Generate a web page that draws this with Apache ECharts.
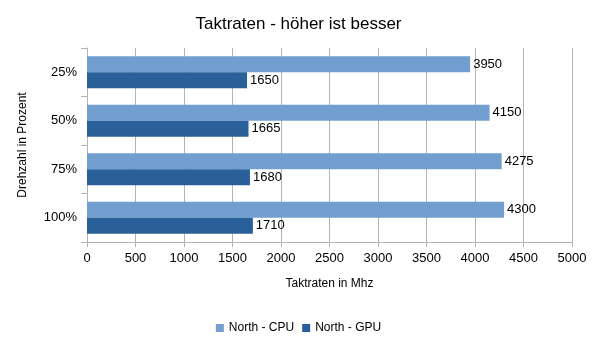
<!DOCTYPE html>
<html><head><meta charset="utf-8">
<script src="https://cdn.jsdelivr.net/npm/echarts@6/dist/echarts.min.js"></script>
<style>html,body{margin:0;padding:0;background:#fff}#c{width:597px;height:346px}</style>
</head><body><div id="c"></div>
<script>
const categories = ["25%", "50%", "75%", "100%"];
const cpuValues = [3950, 4150, 4275, 4300];
const gpuValues = [1650, 1665, 1680, 1710];
const seriesNames = ["North - CPU", "North - GPU"];

const font = "Liberation Sans";
const chart = echarts.init(document.getElementById('c'), null, {renderer: 'canvas'});
chart.setOption({
  animation: false,
  textStyle: {fontFamily: font},
  title: {text: "Taktraten - höher ist besser", left: 'center', top: 11,
    textStyle: {fontFamily: font, fontSize: 17, fontWeight: 'normal', color: '#000'}},
  legend: {bottom: 7, left: 'center', itemWidth: 8, itemHeight: 8, itemGap: 8, icon: 'rect',
    textStyle: {fontFamily: font, fontSize: 12, color: '#000'}, data: seriesNames},
  grid: {left: 87, right: 25, top: 48, bottom: 104},
  xAxis: {type: 'value', min: 0, max: 5000, interval: 500,
    name: "Taktraten in Mhz", nameLocation: 'middle', nameGap: 36,
    nameTextStyle: {fontFamily: font, fontSize: 12, color: '#000'},
    axisLine: {show: true, lineStyle: {color: '#b3b3b3'}},
    axisTick: {show: true, length: 5, lineStyle: {color: '#b3b3b3'}},
    axisLabel: {fontFamily: font, fontSize: 13, color: '#000', margin: 10,
      formatter: v => String(v)},
    splitLine: {show: true, lineStyle: {color: '#b3b3b3'}}},
  yAxis: {type: 'category', data: categories, inverse: true,
    name: "Drehzahl in Prozent", nameLocation: 'middle', nameGap: 58, nameRotate: 90,
    nameTextStyle: {fontFamily: font, fontSize: 12, color: '#000'},
    axisLine: {show: true, lineStyle: {color: '#b3b3b3'}},
    axisTick: {show: true, length: 6, inside: false, lineStyle: {color: '#b3b3b3'}},
    axisLabel: {fontFamily: font, fontSize: 13, color: '#000', margin: 10},
    splitLine: {show: false}},
  series: [
    {name: seriesNames[0], type: 'bar', data: cpuValues, barGap: '0%', barCategoryGap: '34%',
     itemStyle: {color: '#729fcf'},
     label: {show: true, position: 'right', distance: 3, fontFamily: font, fontSize: 13, color: '#000'}},
    {name: seriesNames[1], type: 'bar', data: gpuValues, barGap: '0%', barCategoryGap: '34%',
     itemStyle: {color: '#2a6099'},
     label: {show: true, position: 'right', distance: 3, fontFamily: font, fontSize: 13, color: '#000'}}
  ]
});
</script></body></html>
